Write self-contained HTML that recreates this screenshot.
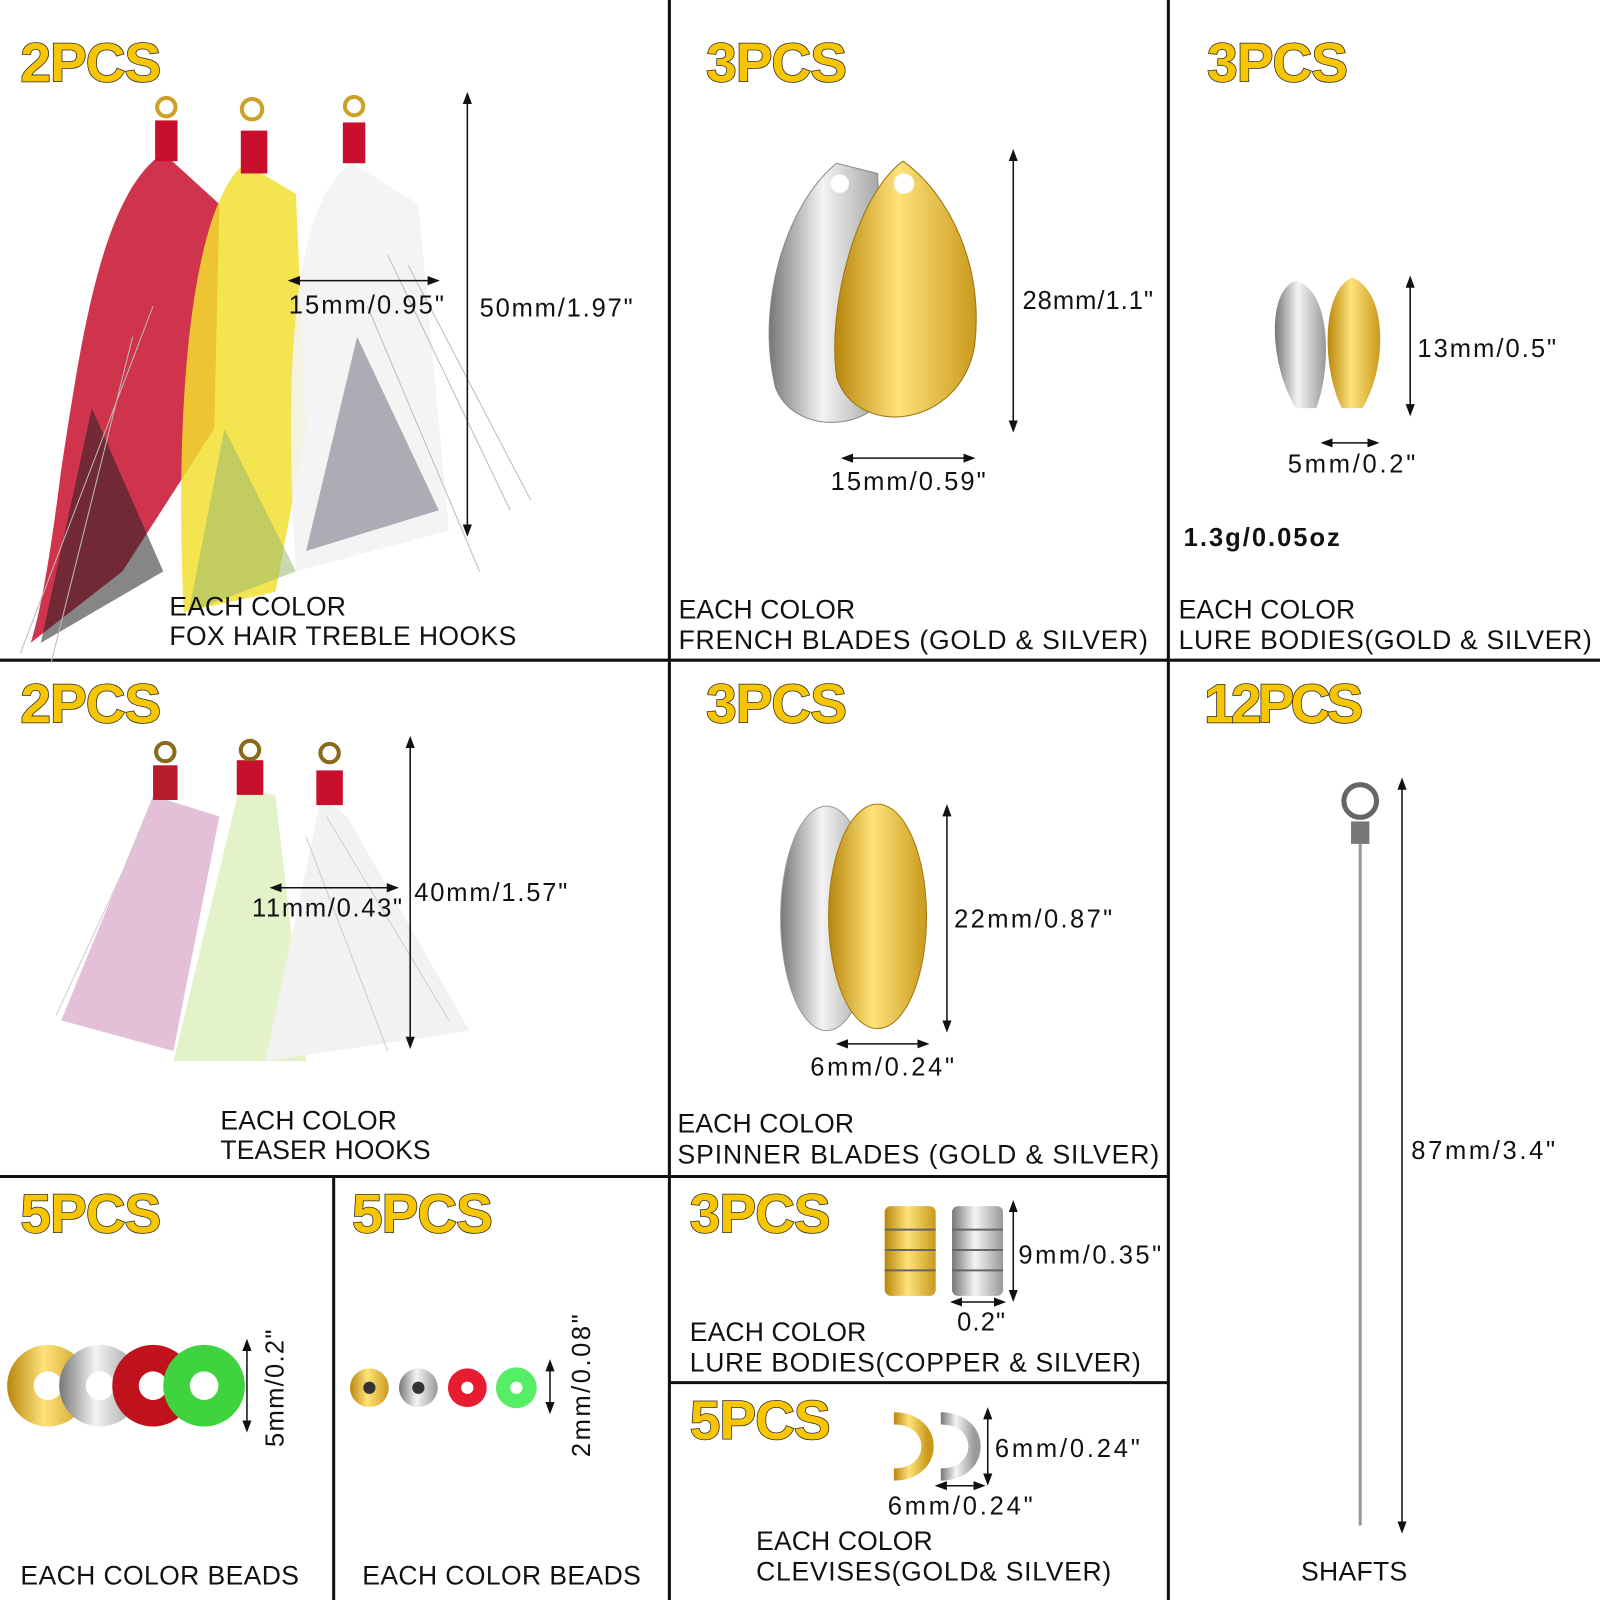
<!DOCTYPE html>
<html><head><meta charset="utf-8"><style>
html,body{margin:0;padding:0;background:#fff;}
svg{display:block}
.pc{font-family:"Liberation Sans",sans-serif;font-weight:bold;font-size:54px;fill:#f7c600;stroke:#2a2a2a;stroke-width:1.5;paint-order:stroke}
.lb{font-family:"Liberation Sans",sans-serif;font-size:26px;fill:#111}
.m{font-family:"Liberation Sans",sans-serif;font-size:25px;fill:#111}
</style></head><body>
<svg width="1600" height="1600" viewBox="0 0 1568 1568" xmlns="http://www.w3.org/2000/svg">
<defs>
<marker id="a" markerWidth="8" markerHeight="8" refX="4" refY="4" orient="auto-start-reverse"><path d="M0,1 L8,4 L0,7 z" fill="#111"/></marker>
<linearGradient id="gold" x1="0" x2="1"><stop offset="0" stop-color="#b8860b"/><stop offset=".45" stop-color="#ffe27a"/><stop offset="1" stop-color="#c99a1c"/></linearGradient>
<linearGradient id="silv" x1="0" x2="1"><stop offset="0" stop-color="#777"/><stop offset=".45" stop-color="#f4f4f4"/><stop offset="1" stop-color="#999"/></linearGradient>
</defs>
<g stroke="#111" stroke-width="3">
<line x1="656" y1="0" x2="656" y2="1568"/><line x1="1145" y1="0" x2="1145" y2="1568"/>
<line x1="327" y1="1153" x2="327" y2="1568"/>
<line x1="0" y1="647" x2="1568" y2="647"/><line x1="0" y1="1153" x2="1145" y2="1153"/>
<line x1="656" y1="1355" x2="1145" y2="1355"/>
</g>
<text class="pc" x="20" y="80" textLength="138">2PCS</text>
<text class="pc" x="692" y="80" textLength="138">3PCS</text>
<text class="pc" x="1183" y="80" textLength="138">3PCS</text>
<text class="pc" x="20" y="708" textLength="138">2PCS</text>
<text class="pc" x="692" y="708" textLength="138">3PCS</text>
<text class="pc" x="1180" y="708" textLength="156">12PCS</text>
<text class="pc" x="20" y="1208" textLength="138">5PCS</text>
<text class="pc" x="345" y="1208" textLength="138">5PCS</text>
<text class="pc" x="676" y="1208" textLength="138">3PCS</text>
<text class="pc" x="676" y="1410" textLength="138">5PCS</text>

<!-- fox hair hooks -->
<path d="M160,150 C100,190 80,330 60,460 C50,540 40,600 30,630 L120,560 L210,420 L215,200 Z" fill="#c8102e" opacity=".85"/>
<path d="M40,630 L90,400 L160,560 Z" fill="#222" opacity=".55"/>
<path d="M240,160 C190,200 170,380 180,600 L270,580 L300,420 L290,190 Z" fill="#f2df30" opacity=".85"/>
<path d="M185,600 L220,420 L290,560 Z" fill="#9ab870" opacity=".55"/>
<path d="M345,160 C280,200 280,400 290,560 L440,520 L410,200 Z" fill="#f3f3f3" opacity=".9"/>
<path d="M300,540 L350,330 L430,500 Z" fill="#556" opacity=".45"/>
<g stroke="#bbb" stroke-width="1" fill="none"><path d="M380,250 L500,500"/><path d="M400,260 L520,490"/><path d="M360,300 L470,560"/><path d="M150,300 L20,640"/><path d="M130,330 L50,650"/></g>
<rect x="152" y="118" width="22" height="40" fill="#c8102e"/><circle cx="163" cy="105" r="9" fill="none" stroke="#c9a227" stroke-width="4"/>
<rect x="236" y="128" width="26" height="42" fill="#c8102e"/><circle cx="247" cy="107" r="10" fill="none" stroke="#c9a227" stroke-width="4"/>
<rect x="336" y="120" width="22" height="40" fill="#c8102e"/><circle cx="347" cy="104" r="9" fill="none" stroke="#c9a227" stroke-width="4"/>
<line x1="288" y1="275" x2="425" y2="275" stroke="#111" stroke-width="1.5" marker-start="url(#a)" marker-end="url(#a)"/>
<text class="m" x="283" y="307" textLength="152">15mm/0.95"</text>
<line x1="458" y1="96" x2="458" y2="520" stroke="#111" stroke-width="1.5" marker-start="url(#a)" marker-end="url(#a)"/>
<text class="m" x="470" y="310" textLength="150">50mm/1.97"</text>
<text class="lb" x="166" y="603" textLength="173">EACH COLOR</text>
<text class="lb" x="166" y="632" textLength="340">FOX HAIR TREBLE HOOKS</text>

<path d="M820,160 C770,200 740,300 760,380 C780,430 860,420 870,380 L860,170 Z" fill="url(#silv)" stroke="#888"/>
<path d="M885,158 C840,190 810,300 820,370 C840,430 940,420 955,340 C965,260 930,190 885,158 Z" fill="url(#gold)" stroke="#9a7410"/>
<circle cx="886" cy="180" r="10" fill="#fff"/><circle cx="823" cy="180" r="9" fill="#fff"/>
<line x1="993" y1="152" x2="993" y2="418" stroke="#111" stroke-width="1.5" marker-start="url(#a)" marker-end="url(#a)"/>
<text class="m" x="1002" y="303" textLength="128">28mm/1.1"</text>
<line x1="830" y1="449" x2="950" y2="449" stroke="#111" stroke-width="1.5" marker-start="url(#a)" marker-end="url(#a)"/>
<text class="m" x="814" y="480" textLength="152">15mm/0.59"</text>
<text class="lb" x="665" y="606" textLength="173">EACH COLOR</text>
<text class="lb" x="665" y="636" textLength="460">FRENCH BLADES (GOLD &amp; SILVER)</text>

<path d="M1270,275 C1240,285 1245,360 1270,400 L1290,400 C1305,360 1305,285 1270,275 Z" fill="url(#silv)"/>
<path d="M1325,272 C1295,285 1295,360 1315,400 L1335,400 C1360,360 1360,285 1325,272 Z" fill="url(#gold)"/>
<line x1="1382" y1="276" x2="1382" y2="402" stroke="#111" stroke-width="1.5" marker-start="url(#a)" marker-end="url(#a)"/>
<text class="m" x="1389" y="350" textLength="136">13mm/0.5"</text>
<line x1="1300" y1="434" x2="1346" y2="434" stroke="#111" stroke-width="1.5" marker-start="url(#a)" marker-end="url(#a)"/>
<text class="m" x="1262" y="463" textLength="125">5mm/0.2"</text>
<text class="m" x="1160" y="535" font-weight="bold" textLength="153">1.3g/0.05oz</text>
<text class="lb" x="1155" y="606" textLength="173">EACH COLOR</text>
<text class="lb" x="1155" y="636" textLength="405">LURE BODIES(GOLD &amp; SILVER)</text>

<!-- teaser hooks -->
<path d="M150,780 L60,1000 L170,1030 L215,800 Z" fill="#d7a5c8" opacity=".7"/>
<path d="M235,770 L170,1040 L300,1040 L270,780 Z" fill="#dff0c0" opacity=".85"/>
<path d="M315,780 L260,1040 L460,1010 L340,800 Z" fill="#f2f2f2"/>
<g stroke="#ccc" stroke-width="1"><line x1="320" y1="800" x2="440" y2="1000"/><line x1="300" y1="820" x2="380" y2="1030"/><line x1="150" y1="790" x2="55" y2="995"/></g>
<rect x="150" y="750" width="24" height="34" fill="#b81c2c"/><circle cx="162" cy="737" r="9" fill="none" stroke="#8a6a1a" stroke-width="4"/>
<rect x="232" y="745" width="26" height="34" fill="#c8102e"/><circle cx="245" cy="735" r="9" fill="none" stroke="#8a6a1a" stroke-width="4"/>
<rect x="310" y="755" width="26" height="34" fill="#c8102e"/><circle cx="323" cy="738" r="9" fill="none" stroke="#8a6a1a" stroke-width="4"/>
<line x1="270" y1="870" x2="385" y2="870" stroke="#111" stroke-width="1.5" marker-start="url(#a)" marker-end="url(#a)"/>
<text class="m" x="247" y="898" textLength="147">11mm/0.43"</text>
<line x1="402" y1="727" x2="402" y2="1022" stroke="#111" stroke-width="1.5" marker-start="url(#a)" marker-end="url(#a)"/>
<text class="m" x="406" y="883" textLength="150">40mm/1.57"</text>
<text class="lb" x="216" y="1107" textLength="173">EACH COLOR</text>
<text class="lb" x="216" y="1136" textLength="206">TEASER HOOKS</text>

<ellipse cx="810" cy="900" rx="45" ry="110" fill="url(#silv)" stroke="#999"/>
<ellipse cx="860" cy="898" rx="48" ry="110" fill="url(#gold)" stroke="#a07a10"/>
<line x1="928" y1="794" x2="928" y2="1006" stroke="#111" stroke-width="1.5" marker-start="url(#a)" marker-end="url(#a)"/>
<text class="m" x="935" y="909" textLength="155">22mm/0.87"</text>
<line x1="825" y1="1023" x2="905" y2="1023" stroke="#111" stroke-width="1.5" marker-start="url(#a)" marker-end="url(#a)"/>
<text class="m" x="794" y="1054" textLength="141">6mm/0.24"</text>
<text class="lb" x="664" y="1110" textLength="173">EACH COLOR</text>
<text class="lb" x="664" y="1140" textLength="472">SPINNER BLADES (GOLD &amp; SILVER)</text>

<circle cx="1333" cy="785" r="16" fill="none" stroke="#666" stroke-width="5"/>
<rect x="1324" y="805" width="18" height="22" fill="#777"/>
<line x1="1333" y1="827" x2="1333" y2="1495" stroke="#999" stroke-width="3"/>
<line x1="1374" y1="768" x2="1374" y2="1497" stroke="#111" stroke-width="1.5" marker-start="url(#a)" marker-end="url(#a)"/>
<text class="m" x="1383" y="1136" textLength="141">87mm/3.4"</text>
<text class="lb" x="1275" y="1549" textLength="104">SHAFTS</text>

<circle cx="47" cy="1358" r="40" fill="url(#gold)"/><circle cx="47" cy="1358" r="14" fill="#fff"/>
<circle cx="98" cy="1358" r="40" fill="url(#silv)"/><circle cx="98" cy="1358" r="14" fill="#fff"/>
<circle cx="150" cy="1358" r="40" fill="#c0121c"/><circle cx="150" cy="1358" r="14" fill="#fff"/>
<circle cx="200" cy="1358" r="40" fill="#3fd33f"/><circle cx="200" cy="1358" r="14" fill="#fff"/>
<line x1="242" y1="1318" x2="242" y2="1398" stroke="#111" stroke-width="1.5" marker-start="url(#a)" marker-end="url(#a)"/>
<text class="m" transform="translate(278,1418) rotate(-90)" textLength="115">5mm/0.2"</text>
<text class="lb" x="20" y="1553" textLength="273">EACH COLOR BEADS</text>

<circle cx="362" cy="1360" r="19" fill="url(#gold)"/><circle cx="362" cy="1360" r="6" fill="#333"/>
<circle cx="410" cy="1360" r="19" fill="url(#silv)"/><circle cx="410" cy="1360" r="6" fill="#333"/>
<circle cx="458" cy="1360" r="19" fill="#e81c30"/><circle cx="458" cy="1360" r="6" fill="#fff"/>
<circle cx="506" cy="1360" r="20" fill="#55ee66"/><circle cx="506" cy="1360" r="6" fill="#fff"/>
<line x1="539" y1="1338" x2="539" y2="1380" stroke="#111" stroke-width="1.5" marker-start="url(#a)" marker-end="url(#a)"/>
<text class="m" transform="translate(578,1428) rotate(-90)" textLength="140">2mm/0.08"</text>
<text class="lb" x="355" y="1553" textLength="273">EACH COLOR BEADS</text>

<rect x="867" y="1182" width="50" height="88" rx="6" fill="url(#gold)"/>
<rect x="933" y="1182" width="50" height="88" rx="6" fill="url(#silv)"/>
<g stroke="#666" stroke-width="2"><line x1="867" y1="1205" x2="917" y2="1205"/><line x1="867" y1="1225" x2="917" y2="1225"/><line x1="867" y1="1245" x2="917" y2="1245"/><line x1="933" y1="1205" x2="983" y2="1205"/><line x1="933" y1="1225" x2="983" y2="1225"/><line x1="933" y1="1245" x2="983" y2="1245"/></g>
<line x1="993" y1="1182" x2="993" y2="1270" stroke="#111" stroke-width="1.5" marker-start="url(#a)" marker-end="url(#a)"/>
<text class="m" x="998" y="1238" textLength="140">9mm/0.35"</text>
<line x1="937" y1="1276" x2="980" y2="1276" stroke="#111" stroke-width="1.5" marker-start="url(#a)" marker-end="url(#a)"/>
<text class="m" x="938" y="1304" textLength="47">0.2"</text>
<text class="lb" x="676" y="1314" textLength="173">EACH COLOR</text>
<text class="lb" x="676" y="1344" textLength="442">LURE BODIES(COPPER &amp; SILVER)</text>

<path d="M876,1390 C920,1390 920,1445 876,1445" fill="none" stroke="url(#gold)" stroke-width="12"/>
<path d="M922,1390 C966,1390 966,1445 922,1445" fill="none" stroke="url(#silv)" stroke-width="12"/>
<line x1="968" y1="1385" x2="968" y2="1450" stroke="#111" stroke-width="1.5" marker-start="url(#a)" marker-end="url(#a)"/>
<text class="m" x="975" y="1428" textLength="142">6mm/0.24"</text>
<line x1="922" y1="1456" x2="960" y2="1456" stroke="#111" stroke-width="1.5" marker-start="url(#a)" marker-end="url(#a)"/>
<text class="m" x="870" y="1484" textLength="142">6mm/0.24"</text>
<text class="lb" x="741" y="1519" textLength="173">EACH COLOR</text>
<text class="lb" x="741" y="1549" textLength="348">CLEVISES(GOLD&amp; SILVER)</text>
</svg>
</body></html>
